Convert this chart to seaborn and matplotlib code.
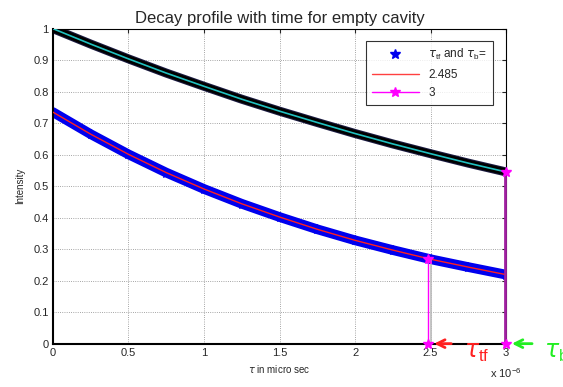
import numpy as np
import pandas as pd
import matplotlib
matplotlib.use("Agg")
import matplotlib.pyplot as plt
import seaborn as sns
from matplotlib.lines import Line2D

# data (x in units of 1e-6 s)
t = [0, 0.25, 0.5, 0.75, 1.0, 1.25, 1.5, 1.75, 2.0, 2.25, 2.5, 2.75, 3.0]
upper = [1.0, 0.951, 0.904, 0.859, 0.817, 0.776, 0.738, 0.702, 0.667, 0.634, 0.603, 0.573, 0.545]
lower = [0.735, 0.665, 0.601, 0.543, 0.491, 0.444, 0.402, 0.363, 0.328, 0.297, 0.268, 0.243, 0.219]
tau_tf = 2.485
tau_b = 3.0
tau_tf_val = 0.270
tau_b_val = 0.545
xticks = [0, 0.5, 1, 1.5, 2, 2.5, 3]
yticks = [0, 0.1, 0.2, 0.3, 0.4, 0.5, 0.6, 0.7, 0.8, 0.9, 1]

df = pd.DataFrame({"t": t, "upper": upper, "lower": lower})

sns.set_style("white")
plt.rcParams['font.family'] = ['Liberation Sans', 'DejaVu Sans']

fig = plt.figure(figsize=(5.63, 3.87), dpi=100)
ax = fig.add_axes([0.094, 0.112, 0.805, 0.814])

# grid
for xv in xticks:
    ax.axvline(xv, color='#888888', lw=0.6, ls=':', zorder=0)
for yv in yticks:
    ax.axhline(yv, color='#888888', lw=0.6, ls=':', zorder=0)

# thick bands
sns.lineplot(data=df, x="t", y="upper", ax=ax, color='#1a1a40', lw=6.5, zorder=2)
sns.lineplot(data=df, x="t", y="upper", ax=ax, color='black', lw=5, zorder=2)
sns.lineplot(data=df, x="t", y="lower", ax=ax, color='#0000ee', lw=7, zorder=2,
             marker='*', markersize=7, markeredgecolor='#0000ee', dashes=False)
sns.lineplot(data=df, x="t", y="upper", ax=ax, color='#20c0c0', lw=1.2, zorder=3)
sns.lineplot(data=df, x="t", y="lower", ax=ax, color='#ff2020', lw=1.0, zorder=3)

# vertical markers
ax.plot([tau_tf + 0.015, tau_tf + 0.015], [0, tau_tf_val], color='#bbbbbb', lw=1.2, zorder=3)
ax.plot([tau_tf, tau_tf], [0, tau_tf_val], color='#ff00ff', lw=1.0, zorder=4)
ax.plot([tau_b - 0.005, tau_b - 0.005], [0, tau_b_val], color='#a020a0', lw=2.0, zorder=6,
        clip_on=False)
ax.plot([tau_tf, tau_tf, tau_b, tau_b], [0, tau_tf_val, 0, tau_b_val], ls='none',
        marker='*', color='#ff00ff', markersize=7, zorder=7, clip_on=False)

# arrows
ax.annotate('', xy=(tau_tf + 0.02, 0), xytext=(tau_tf + 0.17, 0),
            arrowprops=dict(arrowstyle='->', color='#ff2020', lw=2, mutation_scale=14),
            annotation_clip=False)
ax.annotate('', xy=(tau_b + 0.02, 0), xytext=(tau_b + 0.19, 0),
            arrowprops=dict(arrowstyle='->', color='#22ee22', lw=2, mutation_scale=14),
            annotation_clip=False)
ax.text(2.72, -0.045, r'$\tau_{\mathregular{tf}}$', color='#ff2020', fontsize=17,
        clip_on=False, va='baseline')
ax.text(3.25, -0.045, r'$\tau_{\mathregular{b}}$', color='#22ee22', fontsize=17,
        clip_on=False, va='baseline')

ax.set_xlim(0, 3)
ax.set_ylim(0, 1)
ax.set_xticks(xticks)
ax.set_xticklabels(['0', '0.5', '1', '1.5', '2', '2.5', '3'])
ax.set_yticks(yticks)
ax.set_yticklabels(['0', '0.1', '0.2', '0.3', '0.4', '0.5', '0.6', '0.7', '0.8', '0.9', '1'])
ax.tick_params(direction='in', length=3, labelsize=8, top=True, right=True, pad=3)
for s in ax.spines.values():
    s.set_color('black')
    s.set_linewidth(0.8)
ax.spines['bottom'].set_linewidth(1.5)
ax.spines['left'].set_linewidth(1.5)

ax.set_title('Decay profile with time for empty cavity', fontsize=12, pad=4)
ax.set_xlabel(r'$\tau$ in micro sec', fontsize=7, labelpad=4)
ax.set_ylabel('Intensity', fontsize=7, labelpad=6)
fig.text(0.87, 0.022, r'x 10$^{\mathregular{-6}}$', fontsize=8, ha='left')

handles = [
    Line2D([], [], color='#0000ee', marker='*', ls='none', markersize=7),
    Line2D([], [], color='#ff4040', lw=1),
    Line2D([], [], color='#ff00ff', lw=1, marker='*', markersize=7),
]
labels = [r'$\tau_{\mathregular{tf}}$ and $\tau_{\mathregular{b}}$=', '2.485', '3']
leg = ax.legend(handles, labels, loc='upper right', bbox_to_anchor=(0.983, 0.978),
                fontsize=8.5, frameon=True, fancybox=False, edgecolor='black',
                borderpad=0.5, handlelength=4.0, labelspacing=0.55)
leg.get_frame().set_linewidth(0.8)

fig.savefig('out.png', dpi=100)
